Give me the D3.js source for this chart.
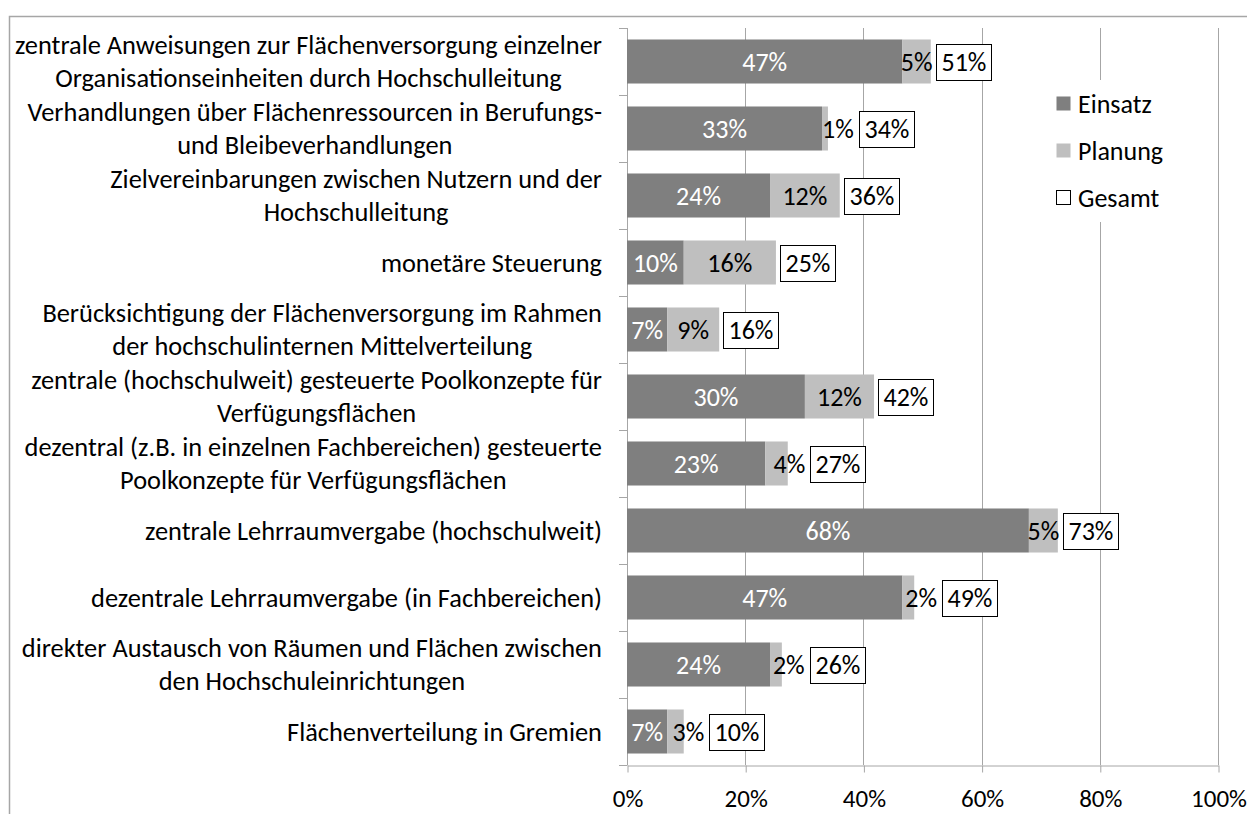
<!DOCTYPE html>
<html>
<head>
<meta charset="utf-8">
<script src="https://cdn.jsdelivr.net/npm/d3@7"></script>
<style>
  html, body { margin: 0; padding: 0; background: #fff; }
  svg { display: block; font-family: Carlito, Calibri, Lato, sans-serif; }
</style>
</head>
<body>
<svg id="chart" width="1247" height="814"></svg>
<script>
// Instruments of space allocation: share in use (Einsatz) and planned (Planung)
const categories = [
  "zentrale Anweisungen zur Flächenversorgung einzelner\nOrganisationseinheiten durch Hochschulleitung",
  "Verhandlungen über Flächenressourcen in Berufungs-\nund Bleibeverhandlungen",
  "Zielvereinbarungen zwischen Nutzern und der\nHochschulleitung",
  "monetäre Steuerung",
  "Berücksichtigung der Flächenversorgung im Rahmen\nder hochschulinternen Mittelverteilung",
  "zentrale (hochschulweit) gesteuerte Poolkonzepte für\nVerfügungsflächen",
  "dezentral (z.B. in einzelnen Fachbereichen) gesteuerte\nPoolkonzepte für Verfügungsflächen",
  "zentrale Lehrraumvergabe (hochschulweit)",
  "dezentrale Lehrraumvergabe (in Fachbereichen)",
  "direkter Austausch von Räumen und Flächen zwischen\nden Hochschuleinrichtungen",
  "Flächenverteilung in Gremien"
];
const einsatz = [46.6, 33.0, 24.2, 9.6, 6.8, 30.1, 23.4, 68.0, 46.6, 24.2, 6.8];
const planung = [4.8, 1.0, 11.8, 15.6, 8.8, 11.7, 3.8, 4.9, 2.0, 2.0, 2.8];
const seriesNames = ["Einsatz", "Planung", "Gesamt"];
const xTicks = [0, 20, 40, 60, 80, 100];

const colors = { Einsatz: "#7f7f7f", Planung: "#bfbfbf" };
const gridColor = "#a6a6a6";
const fontSize = 26;
const catFontSize = 26.4;
const tickFontSize = 25;

const svg = d3.select("#chart");
const margin = { left: 627, right: 29, top: 28, bottom: 49 };
const W = 1247, H = 814;

// outer chart frame
svg.append("rect")
  .attr("x", 9.5).attr("y", 16.5)
  .attr("width", W + 20).attr("height", H + 20)
  .attr("fill", "none").attr("stroke", "#a6a6a6").attr("stroke-width", 1.5);

const x = d3.scaleLinear().domain([0, 100]).range([margin.left, W - margin.right]);
const y = d3.scaleBand()
  .domain(d3.range(categories.length))
  .range([margin.top, H - margin.bottom])
  .paddingInner(0.343).paddingOuter(0.1715);

const plotTop = margin.top, plotBottom = H - margin.bottom;

// vertical gridlines
svg.append("g").selectAll("line")
  .data(xTicks.slice(1))
  .join("line")
  .attr("x1", d => Math.round(x(d)) + 0.5).attr("x2", d => Math.round(x(d)) + 0.5)
  .attr("y1", plotTop).attr("y2", plotBottom)
  .attr("stroke", gridColor).attr("stroke-width", 1);

// bottom value axis
const xAxis = d3.axisBottom(x).tickValues(xTicks).tickFormat(d => d + "%").tickSize(7).tickSizeOuter(0);
const gx = svg.append("g").attr("transform", `translate(0.5,${Math.round(plotBottom) + 0.5})`).call(xAxis);
gx.select(".domain").attr("stroke", gridColor);
gx.selectAll(".tick line").attr("stroke", gridColor);
gx.selectAll(".tick text")
  .attr("font-family", "Carlito, Calibri, Lato, sans-serif")
  .attr("font-size", tickFontSize).attr("fill", "#000").attr("dy", "1.25em");

// left category axis (line and boundary ticks)
const gy = svg.append("g");
gy.append("line")
  .attr("x1", Math.round(x(0)) + 0.5).attr("x2", Math.round(x(0)) + 0.5)
  .attr("y1", plotTop).attr("y2", plotBottom)
  .attr("stroke", gridColor);
const bounds = d3.range(categories.length + 1).map(i => plotTop + i * y.step());
gy.selectAll("line.tk").data(bounds).join("line").attr("class", "tk")
  .attr("x1", Math.round(x(0)) - 8).attr("x2", Math.round(x(0)) + 0.5)
  .attr("y1", d => Math.round(d) + 0.5).attr("y2", d => Math.round(d) + 0.5)
  .attr("stroke", gridColor);

// category labels: wrapped lines centred within a right-aligned block
const labelRight = 602, lineH = 32.5;
categories.forEach((c, i) => {
  const lines = c.split("\n");
  const g = svg.append("g");
  const texts = lines.map((ln, k) => g.append("text")
    .attr("font-size", catFontSize).attr("fill", "#000")
    .attr("text-anchor", "middle")
    .attr("dominant-baseline", "central")
    .attr("y", y(i) + y.bandwidth() / 2 + (k - (lines.length - 1) / 2) * lineH)
    .text(ln));
  const blockW = d3.max(texts, t => t.node().getComputedTextLength());
  texts.forEach(t => t.attr("x", labelRight - blockW / 2));
});

const rows = categories.map((c, i) => ({ i, e: einsatz[i], p: planung[i], t: einsatz[i] + planung[i] }));

// stacked bars
const bars = svg.append("g");
bars.selectAll("rect.e").data(rows).join("rect").attr("class", "e")
  .attr("x", x(0)).attr("y", d => y(d.i))
  .attr("width", d => x(d.e) - x(0)).attr("height", y.bandwidth())
  .attr("fill", colors.Einsatz);
bars.selectAll("rect.p").data(rows).join("rect").attr("class", "p")
  .attr("x", d => x(d.e)).attr("y", d => y(d.i))
  .attr("width", d => x(d.t) - x(d.e)).attr("height", y.bandwidth())
  .attr("fill", colors.Planung);

const fmt = v => Math.round(v) + "%";
const lab = svg.append("g").attr("font-size", fontSize);

rows.forEach(d => {
  const cy = y(d.i) + y.bandwidth() / 2;
  // Einsatz label, white, centred in its segment
  lab.append("text").attr("x", (x(0) + x(d.e)) / 2).attr("y", cy)
    .attr("text-anchor", "middle").attr("dominant-baseline", "central")
    .attr("fill", "#fff").text(fmt(d.e));

  // Planung label: centred when it roughly fits, otherwise pushed right from the segment centre
  const pt = lab.append("text").attr("y", cy)
    .attr("dominant-baseline", "central").attr("fill", "#000").text(fmt(d.p));
  const pw = pt.node().getComputedTextLength();
  const segW = x(d.t) - x(d.e);
  const segMid = (x(d.e) + x(d.t)) / 2;
  let labelEnd;
  if (segW >= pw - 4) {
    pt.attr("text-anchor", "middle").attr("x", segMid);
    labelEnd = Math.max(x(d.t), segMid + pw / 2);
  } else {
    pt.attr("text-anchor", "start").attr("x", segMid - 3);
    labelEnd = segMid - 3 + pw + 1;
  }

  // Gesamt label in a framed box
  const bx = Math.round(Math.max(x(d.t), labelEnd) + 4) + 0.5;
  const gt = lab.append("text").attr("y", cy)
    .attr("text-anchor", "middle").attr("dominant-baseline", "central")
    .attr("fill", "#000").text(fmt(d.t));
  const gw = gt.node().getComputedTextLength() + 10;
  gt.attr("x", bx + gw / 2);
  lab.insert("rect", "text")
    .attr("x", bx).attr("y", Math.round(cy - 18) + 0.5)
    .attr("width", Math.round(gw)).attr("height", 36)
    .attr("fill", "#fff").attr("stroke", "#000").attr("stroke-width", 1);
});

// legend
const lg = svg.append("g");
lg.append("rect").attr("x", 1042).attr("y", 80).attr("width", 150).attr("height", 142).attr("fill", "#fff");
seriesNames.forEach((s, k) => {
  const cy = 104 + k * 47;
  lg.append("rect")
    .attr("x", 1056.5).attr("y", cy - 7.5).attr("width", 14).attr("height", 14)
    .attr("fill", colors[s] || "#fff")
    .attr("stroke", colors[s] ? "none" : "#000").attr("stroke-width", 1);
  lg.append("text").attr("x", 1078).attr("y", cy)
    .attr("dominant-baseline", "central").attr("font-size", fontSize)
    .attr("fill", "#000").text(s);
});
</script>
</body>
</html>
